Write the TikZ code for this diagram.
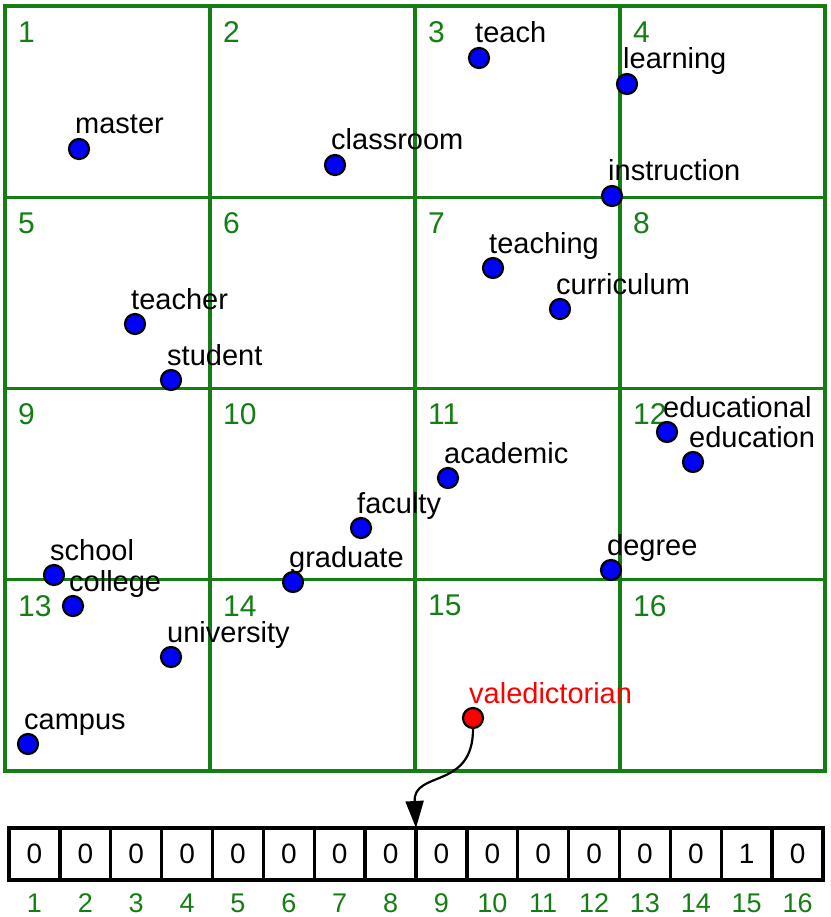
\documentclass[tikz,border=0pt]{standalone}
\usepackage{fontspec}
\setmainfont{Liberation Sans}
\usetikzlibrary{arrows.meta,calc}
\definecolor{gridgreen}{RGB}{20,125,20}
\begin{document}
\begin{tikzpicture}[x=1pt,y=-1pt,
 cell/.style={draw=gridgreen,line width=3.3pt,minimum width=205pt,minimum height=191.25pt,inner sep=0pt,outer sep=0pt},
 cellnum/.style={text=gridgreen,font=\fontsize{30}{36}\selectfont,anchor=west,inner sep=0pt},
 dot/.style={circle,draw=black,line width=2.2pt,fill=blue,minimum size=20pt,inner sep=0pt},
 reddot/.style={dot,fill=red},
 lbl/.style={font=\fontsize{29}{34}\selectfont,anchor=base west,inner sep=0pt},
 acell/.style={draw=black,line width=3.3pt,minimum width=50.875pt,minimum height=52pt,inner sep=0pt,outer sep=0pt,font=\fontsize{28}{34}\selectfont},
 idx/.style={text=gridgreen,font=\fontsize{27}{32}\selectfont,inner sep=0pt},
 link/.style={draw=black,line width=2.2pt,-{Triangle[length=27pt,width=18pt]}}
]
\useasboundingbox (0,0) rectangle (830,917);
% grid
\foreach \r in {0,...,3}{
  \foreach \c in {0,...,3}{
    \pgfmathtruncatemacro\n{4*\r+\c+1}
    \node[cell] (g\n) at ({107.5+205*\c},{101.625+191.25*\r}) {};
    \node[cellnum] (n\n) at ([shift={(13,26)}]g\n.north west) {\n};
  }
}
% words
\foreach \nm/\x/\y in {teach/479/58, learning/627/84, master/79/149, classroom/335/165,
  instruction/612/196, teaching/493/268, curriculum/560/309, teacher/135/324,
  student/171/380, educational/667/432, education/693/462, academic/448/478,
  faculty/361/528, school/54/575, graduate/293/582, degree/611/570, college/73/606,
  university/171/657, campus/28/744}{
  \node[dot] (\nm) at (\x,\y) {};
  \node[lbl] (\nm-l) at ([shift={(-4,-15)}]\nm.center) {\nm};
}
\node[reddot] (valedictorian) at (473,718) {};
\node[lbl,text=red] (valedictorian-l) at ([shift={(-4,-15)}]valedictorian.center) {valedictorian};
% array
\foreach \i/\v in {1/0,2/0,3/0,4/0,5/0,6/0,7/0,8/0,9/0,10/0,11/0,12/0,13/0,14/0,15/1,16/0}{
  \node[acell] (c\i) at ({9+50.875*(\i-0.5)},854) {\v};
  \node[idx] (i\i) at ({9+50.875*(\i-0.5)},903) {\i};
}
\draw[link] (valedictorian.south) .. controls (473,790) and (413,770) .. (c9.north west);
\end{tikzpicture}
\end{document}
